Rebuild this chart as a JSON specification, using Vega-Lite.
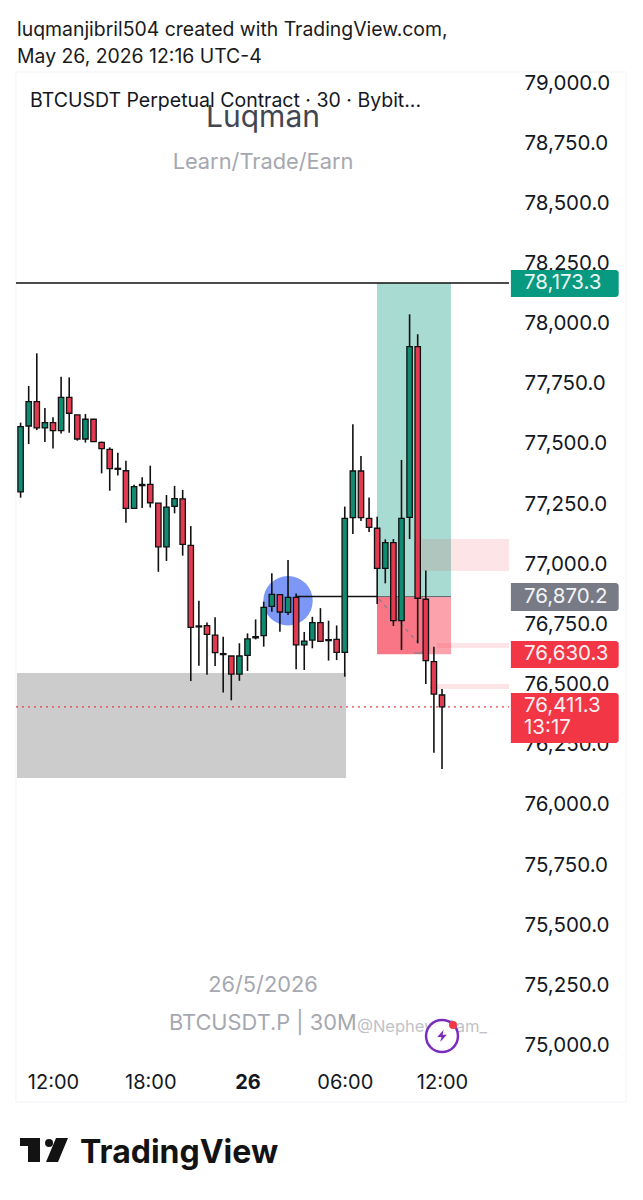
{"$schema":"https://vega.github.io/schema/vega-lite/v6.json","width":643,"height":1200,"padding":0,"autosize":{"type":"none"},"background":"white","config":{"view":{"stroke":null},"text":{"font":"Inter"},"axis":{"labelFont":"Inter"}},
"datasets":{"candles":[
{"k":-4,"open":77305,"high":77593,"low":77281,"close":77576},
{"k":-3,"open":77579,"high":77745,"low":77504,"close":77680},
{"k":-2,"open":77680,"high":77881,"low":77562,"close":77571},
{"k":-1,"open":77571,"high":77654,"low":77512,"close":77593},
{"k":0,"open":77593,"high":77615,"low":77485,"close":77560},
{"k":1,"open":77560,"high":77784,"low":77548,"close":77698},
{"k":2,"open":77698,"high":77781,"low":77551,"close":77632},
{"k":3,"open":77625,"high":77625,"low":77518,"close":77525},
{"k":4,"open":77525,"high":77629,"low":77510,"close":77607},
{"k":5,"open":77607,"high":77607,"low":77514,"close":77514},
{"k":6,"open":77511,"high":77514,"low":77382,"close":77485},
{"k":7,"open":77482,"high":77490,"low":77310,"close":77402},
{"k":8,"open":77403,"high":77468,"low":77373,"close":77399},
{"k":9,"open":77393,"high":77435,"low":77177,"close":77237},
{"k":10,"open":77237,"high":77335,"low":77237,"close":77327},
{"k":11,"open":77336,"high":77366,"low":77238,"close":77331},
{"k":12,"open":77336,"high":77414,"low":77240,"close":77260},
{"k":13,"open":77258,"high":77258,"low":76973,"close":77077},
{"k":14,"open":77077,"high":77292,"low":77018,"close":77242},
{"k":15,"open":77245,"high":77330,"low":77216,"close":77277},
{"k":16,"open":77276,"high":77313,"low":77040,"close":77087},
{"k":17,"open":77083,"high":77163,"low":76519,"close":76742},
{"k":18,"open":76748,"high":76853,"low":76583,"close":76744},
{"k":19,"open":76749,"high":76762,"low":76545,"close":76713},
{"k":20,"open":76710,"high":76784,"low":76581,"close":76637},
{"k":21,"open":76633,"high":76703,"low":76471,"close":76629},
{"k":22,"open":76623,"high":76623,"low":76439,"close":76548},
{"k":23,"open":76548,"high":76676,"low":76520,"close":76623},
{"k":24,"open":76626,"high":76717,"low":76561,"close":76694},
{"k":25,"open":76703,"high":76775,"low":76692,"close":76699},
{"k":26,"open":76708,"high":76849,"low":76662,"close":76825},
{"k":27,"open":76829,"high":76967,"low":76807,"close":76879},
{"k":28,"open":76878,"high":76878,"low":76724,"close":76806},
{"k":29,"open":76804,"high":77022,"low":76793,"close":76867},
{"k":30,"open":76867,"high":76883,"low":76568,"close":76669},
{"k":31,"open":76669,"high":76723,"low":76565,"close":76685},
{"k":32,"open":76689,"high":76786,"low":76655,"close":76762},
{"k":33,"open":76762,"high":76822,"low":76681,"close":76684},
{"k":34,"open":76691,"high":76770,"low":76604,"close":76687},
{"k":35,"open":76692,"high":76750,"low":76606,"close":76638},
{"k":36,"open":76638,"high":77244,"low":76537,"close":77195},
{"k":37,"open":77198,"high":77586,"low":77130,"close":77392},
{"k":38,"open":77392,"high":77454,"low":77184,"close":77198},
{"k":39,"open":77195,"high":77282,"low":77138,"close":77158},
{"k":40,"open":77154,"high":77202,"low":76839,"close":76987},
{"k":41,"open":76987,"high":77108,"low":76925,"close":77094},
{"k":42,"open":77094,"high":77109,"low":76748,"close":76770},
{"k":43,"open":76770,"high":77438,"low":76648,"close":77195},
{"k":44,"open":77199,"high":78043,"low":77109,"close":77909},
{"k":45,"open":77909,"high":77960,"low":76676,"close":76863},
{"k":46,"open":76859,"high":76978,"low":76507,"close":76604},
{"k":47,"open":76600,"high":76662,"low":76221,"close":76465},
{"k":48,"open":76461,"high":76486,"low":76153,"close":76412}
]},
"encoding":{
"x":{"field":"k","type":"quantitative","scale":{"domain":[-6.54,72.8],"nice":false,"zero":false,"padding":0},"axis":{"title":null,"orient":"bottom","offset":-128,"values":[0,12,24,36,48],"domain":false,"ticks":false,"grid":false,"labelPadding":0,"labelBaseline":"top","labelFontSize":20,"labelColor":"#131722","labelOverlap":false,"labelBound":false,"labelFlush":false,"labelExpr":"datum.value==0?'12:00':datum.value==12?'18:00':datum.value==24?'26':datum.value==36?'06:00':'12:00'","labelFontWeight":{"expr":"datum.value==24?'bold':'normal'"}}},
"y":{"field":"p","type":"quantitative","scale":{"domain":[74362.2,79349.4],"nice":false,"zero":false,"padding":0},"axis":{"title":null,"orient":"right","offset":-119,"values":[75000,75250,75500,75750,76000,76250,76500,76750,77000,77250,77500,77750,78000,78250,78500,78750,79000],"format":",.1f","domain":false,"ticks":false,"grid":false,"labelPadding":0,"labelAlign":"left","labelFontSize":20.5,"labelColor":"#131722","labelOffset":-1,"labelOverlap":false,"labelBound":false,"labelFlush":false}}
},
"layer":[
{"data":{"values":[{"k":-4.57,"k2":70.71,"p":79050.2,"p2":74769.5}]},"mark":{"type":"rect","fill":"transparent","stroke":"#f0f3fa","strokeWidth":1},"encoding":{"x2":{"field":"k2"},"y2":{"field":"p2"}}},
{"data":{"values":[{"zone":"gray","k":-4.44,"k2":36.16,"p":76552.5,"p2":76116.1}]},"mark":{"type":"rect","fill":"#cccccc"},"encoding":{"x2":{"field":"k2"},"y2":{"field":"p2"}}},
{"data":{"values":[{"zone":"target","k":39.98,"k2":49.11,"p":78173.3,"p2":76870.2}]},"mark":{"type":"rect","fill":"#a8dbd1"},"encoding":{"x2":{"field":"k2"},"y2":{"field":"p2"}}},
{"data":{"values":[{"zone":"stop","k":39.98,"k2":45.66,"p":76870.2,"p2":76630.3}]},"mark":{"type":"rect","fill":"#f97686"},"encoding":{"x2":{"field":"k2"},"y2":{"field":"p2"}}},
{"data":{"values":[{"zone":"stop","k":45.66,"k2":49.11,"p":76870.2,"p2":76630.3}]},"mark":{"type":"rect","fill":"#fba2ad"},"encoding":{"x2":{"field":"k2"},"y2":{"field":"p2"}}},
{"data":{"values":[{"k":45.53,"k2":56.27,"p":77109.4,"p2":76976.4},{"k":47.38,"k2":56.27,"p":76677.1,"p2":76656.4},{"k":46.52,"k2":56.27,"p":76506.7,"p2":76486}]},"mark":{"type":"rect","fill":"#f23645","opacity":0.13},"encoding":{"x2":{"field":"k2"},"y2":{"field":"p2"}}},
{"data":{"values":[{"k":29,"p":76852.9}]},"mark":{"type":"point","filled":true,"fill":"#7c97f6","opacity":1,"size":2440,"stroke":null}},
{"data":{"values":[{"k":-4.57,"k2":56.27,"p":78173.3}]},"mark":{"type":"rule","color":"#111111","strokeWidth":1.5},"encoding":{"x2":{"field":"k2"}}},
{"data":{"values":[{"k":30.11,"k2":39.98,"p":76870.2}]},"mark":{"type":"rule","color":"#111111","strokeWidth":1.5},"encoding":{"x2":{"field":"k2"}}},
{"data":{"values":[{"k":39.98,"k2":49.11,"p":76870.2}]},"mark":{"type":"rule","color":"#5f6f70","strokeWidth":1},"encoding":{"x2":{"field":"k2"}}},
{"data":{"values":[{"k":-4.57,"k2":56.27,"p":76411.3}]},"mark":{"type":"rule","color":"#e8394a","strokeWidth":1.3,"strokeDash":[2,4]},"encoding":{"x2":{"field":"k2"}}},
{"data":{"values":[{"k":40.23,"k2":45.04,"p":76860,"p2":76677}]},"mark":{"type":"rule","color":"#7f7f88","strokeWidth":1.2,"strokeDash":[4,4]},"encoding":{"x2":{"field":"k2"},"y2":{"field":"p2"}}},
{"data":{"values":[{"k":44.55,"k2":45.66,"p":76635.6}]},"mark":{"type":"rule","color":"#7f7f88","strokeWidth":1.2},"encoding":{"x2":{"field":"k2"}}},
{"data":{"name":"candles"},"mark":{"type":"rule","color":"#111111","strokeWidth":1.6},"encoding":{"y":{"field":"low","type":"quantitative","scale":{"domain":[74362.2,79349.4],"nice":false,"zero":false,"padding":0},"axis":{"title":null,"orient":"right","offset":-119,"values":[75000,75250,75500,75750,76000,76250,76500,76750,77000,77250,77500,77750,78000,78250,78500,78750,79000],"format":",.1f","domain":false,"ticks":false,"grid":false,"labelPadding":0,"labelAlign":"left","labelFontSize":20.5,"labelColor":"#131722","labelOffset":-1,"labelOverlap":false,"labelBound":false,"labelFlush":false}},"y2":{"field":"high"}}},
{"data":{"name":"candles"},"mark":{"type":"bar","orient":"vertical","size":5.4,"stroke":"#111111","strokeWidth":1.3},"encoding":{"y":{"field":"open","type":"quantitative","scale":{"domain":[74362.2,79349.4],"nice":false,"zero":false,"padding":0},"axis":{"title":null,"orient":"right","offset":-119,"values":[75000,75250,75500,75750,76000,76250,76500,76750,77000,77250,77500,77750,78000,78250,78500,78750,79000],"format":",.1f","domain":false,"ticks":false,"grid":false,"labelPadding":0,"labelAlign":"left","labelFontSize":20.5,"labelColor":"#131722","labelOffset":-1,"labelOverlap":false,"labelBound":false,"labelFlush":false}},"y2":{"field":"close"},"fill":{"condition":{"test":"datum.close>datum.open","value":"#118a72"},"value":"#e23a50"}}},
{"data":{"values":[{"k":56.5,"k2":69.8,"p":78227.3,"p2":78115}]},"mark":{"type":"rect","fill":"#089981","cornerRadiusTopRight":3,"cornerRadiusBottomRight":3},"encoding":{"x2":{"field":"k2"},"y2":{"field":"p2"}}},
{"data":{"values":[{"k":56.5,"k2":69.8,"p":76926.5,"p2":76810.1}]},"mark":{"type":"rect","fill":"#787b86","cornerRadiusTopRight":3,"cornerRadiusBottomRight":3},"encoding":{"x2":{"field":"k2"},"y2":{"field":"p2"}}},
{"data":{"values":[{"k":56.5,"k2":69.8,"p":76685.5,"p2":76573.3},{"k":56.5,"k2":69.8,"p":76469.3,"p2":76261.5}]},"mark":{"type":"rect","fill":"#f23645","cornerRadiusTopRight":3,"cornerRadiusBottomRight":3},"encoding":{"x2":{"field":"k2"},"y2":{"field":"p2"}}},
{"data":{"values":[{"k":58.12,"p":78173.3,"label":"78,173.3"},{"k":58.12,"p":76870.2,"label":"76,870.2"},{"k":58.12,"p":76630.3,"label":"76,630.3"},{"k":58.12,"p":76415,"label":"76,411.3"},{"k":58.12,"p":76324,"label":"13:17"}]},"mark":{"type":"text","align":"left","baseline":"middle","fontSize":20.5,"fill":"#ffffff","opacity":0.92},"encoding":{"text":{"field":"label"}}},
{"data":{"values":[{"k":-4.44,"p":79224.8,"label":"luqmanjibril504 created with TradingView.com,"},{"k":-4.44,"p":79112.6,"label":"May 26, 2026 12:16 UTC-4"}]},"mark":{"type":"text","align":"left","baseline":"middle","fontSize":19.4,"fill":"#1a1a1a"},"encoding":{"text":{"field":"label"}}},
{"data":{"values":[{"k":-2.84,"p":78929.7,"label":"BTCUSDT Perpetual Contract · 30 · Bybit..."}]},"mark":{"type":"text","align":"left","baseline":"middle","fontSize":19.5,"fill":"#131722"},"encoding":{"text":{"field":"label"}}},
{"data":{"values":[{"k":25.91,"p":78859,"label":"Luqman"}]},"mark":{"type":"text","align":"center","baseline":"middle","fontSize":30,"fill":"#434651"},"encoding":{"text":{"field":"label"}}},
{"data":{"values":[{"k":25.91,"p":78676.2,"label":"Learn/Trade/Earn"},{"k":25.91,"p":75255.8,"label":"26/5/2026"}]},"mark":{"type":"text","align":"center","baseline":"middle","fontSize":21.8,"fill":"#a6a8b0"},"encoding":{"text":{"field":"label"}}},
{"data":{"values":[{"k":14.31,"p":75097.9,"label":"BTCUSDT.P | 30M"}]},"mark":{"type":"text","align":"left","baseline":"middle","fontSize":21.8,"fill":"#a6a8b0"},"encoding":{"text":{"field":"label"}}},
{"data":{"values":[{"k":37.51,"p":75081.3,"label":"@Nephew_Sam_"}]},"mark":{"type":"text","align":"left","baseline":"middle","fontSize":16.5,"fill":"#c0c2c9"},"encoding":{"text":{"field":"label"}}},
{"data":{"values":[{"k":48,"p":75043.8}]},"mark":{"type":"point","filled":false,"shape":"circle","size":1020,"stroke":"#7b2cbf","strokeWidth":2.5,"fill":"white","fillOpacity":0.85,"opacity":1}},
{"data":{"values":[{"k":48,"p":75043.8}]},"mark":{"type":"point","filled":true,"shape":"M0.25,-1 L-0.8,0.15 L-0.1,0.15 L-0.3,1 L0.8,-0.2 L0.1,-0.2 Z","size":144,"fill":"#7b2cbf","opacity":1,"stroke":null}},
{"data":{"values":[{"k":49.36,"p":75089.5}]},"mark":{"type":"point","filled":true,"size":64,"fill":"#f23645","opacity":1,"stroke":null}},
{"data":{"values":[{"k":-1.11,"p":74570}]},"mark":{"type":"point","filled":true,"shape":"M-2,-1 L-0.333,-1 L-0.333,1 L-1.333,1 L-1.333,-0.333 L-2,-0.333 Z M1,-1 L2,-1 L1.167,1 L0.167,1 Z","size":576,"fill":"#131313","opacity":1,"stroke":null}},
{"data":{"values":[{"k":-0.49,"p":74599}]},"mark":{"type":"point","filled":true,"size":64,"fill":"#131313","opacity":1,"stroke":null}},
{"data":{"values":[{"k":3.33,"p":74557,"label":"TradingView"}]},"mark":{"type":"text","align":"left","baseline":"middle","fontSize":32,"fontWeight":"bold","fill":"#131313"},"encoding":{"text":{"field":"label"}}}
]}
